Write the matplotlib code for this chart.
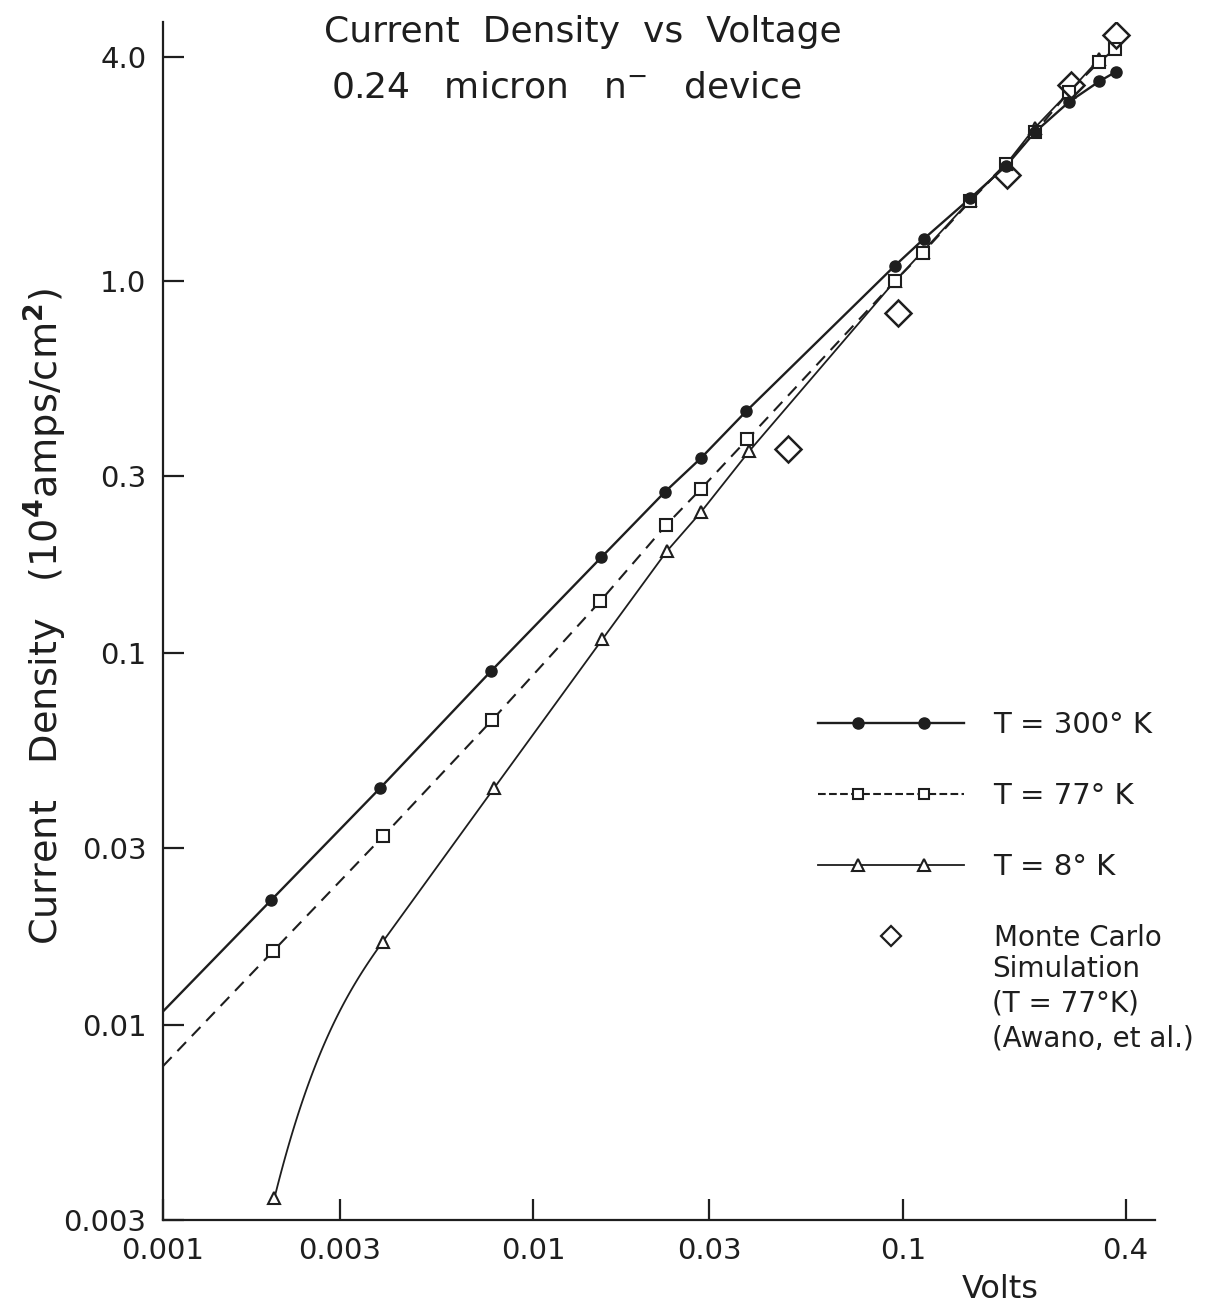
import numpy as np
import matplotlib
matplotlib.use("Agg")
import matplotlib.pyplot as plt
from matplotlib.lines import Line2D
from matplotlib.legend_handler import HandlerLine2D
from matplotlib.ticker import NullLocator, FixedLocator, FixedFormatter

plt.rcParams['font.family'] = ['DejaVu Sans']

# ---------------- data ----------------
V300 = [0.00196, 0.00386, 0.0077, 0.0153, 0.0227, 0.0284, 0.0377, 0.0951, 0.114, 0.152, 0.190, 0.227, 0.281, 0.339, 0.376]
J300 = [0.0217, 0.0434, 0.0895, 0.181, 0.271, 0.334, 0.447, 1.10, 1.30, 1.67, 2.04, 2.51, 3.03, 3.44, 3.65]

V77 = [0.00198, 0.00393, 0.00774, 0.0152, 0.0229, 0.0284, 0.0380, 0.0951, 0.113, 0.152, 0.190, 0.227, 0.281, 0.339, 0.374]
J77 = [0.0158, 0.0322, 0.066, 0.138, 0.221, 0.276, 0.376, 1.00, 1.19, 1.64, 2.06, 2.51, 3.22, 3.88, 4.20]

V8 = [0.00200, 0.00393, 0.00785, 0.0154, 0.0230, 0.0284, 0.0384, 0.0951, 0.113, 0.152, 0.190, 0.227, 0.281, 0.339]
J8 = [0.00343, 0.0168, 0.0434, 0.109, 0.188, 0.239, 0.349, 1.00, 1.20, 1.65, 2.06, 2.58, 3.22, 3.95]

VMC = [0.0489, 0.0969, 0.191, 0.284, 0.377]
JMC = [0.353, 0.82, 1.93, 3.36, 4.6]

xticks = [0.001, 0.003, 0.01, 0.03, 0.1, 0.4]
xticklabels = ["0.001", "0.003", "0.01", "0.03", "0.1", "0.4"]
yticks = [0.003, 0.01, 0.03, 0.1, 0.3, 1.0, 4.0]
yticklabels = ["0.003", "0.01", "0.03", "0.1", "0.3", "1.0", "4.0"]

labels = ["T = 300° K", "T = 77° K", "T = 8° K", "Monte Carlo"]
mc_note = "Simulation\n(T = 77°K)\n(Awano, et al.)"

XLIM = (0.001, 0.48)
YLIM = (0.003, 4.97)

INK = "#1e1e1e"
START_STEEPNESS = 1.7   # shape of the curved low-voltage end of the 8 K line


def curved_start(x, y, k=START_STEEPNESS, n=60):
    """Straight log-log segments, except the first one which is a Hermite curve
    that meets the second segment smoothly and starts steeper."""
    lx = np.log10(np.asarray(x, float))
    ly = np.log10(np.asarray(y, float))
    h = lx[1] - lx[0]
    sec = (ly[1] - ly[0]) / h
    m1 = (ly[2] - ly[1]) / (lx[2] - lx[1])
    m0 = k * sec
    t = np.linspace(0, 1, n)
    h00 = 2 * t**3 - 3 * t**2 + 1
    h10 = t**3 - 2 * t**2 + t
    h01 = -2 * t**3 + 3 * t**2
    h11 = t**3 - t**2
    cy = h00 * ly[0] + h10 * h * m0 + h01 * ly[1] + h11 * h * m1
    cx = lx[0] + t * h
    xs = np.concatenate([cx, lx[2:]])
    ys = np.concatenate([cy, ly[2:]])
    return 10 ** xs, 10 ** ys


def extend_left(x, y, x0):
    """Extend the first segment (straight in log-log) to x0."""
    s = (np.log10(y[1]) - np.log10(y[0])) / (np.log10(x[1]) - np.log10(x[0]))
    y0 = 10 ** (np.log10(y[0]) + s * (np.log10(x0) - np.log10(x[0])))
    return [x0] + list(x), [y0] + list(y)


class FullLineHandler(HandlerLine2D):
    """Legend handler: markers inset from the ends, line spans the full handle."""
    def create_artists(self, legend, orig_handle, xdescent, ydescent, width,
                       height, fontsize, trans):
        arts = super().create_artists(legend, orig_handle, xdescent, ydescent,
                                      width, height, fontsize, trans)
        mk = arts[0]
        yv = mk.get_ydata()[0]
        line = Line2D([-xdescent, -xdescent + width], [yv, yv],
                      color=orig_handle.get_color(), lw=orig_handle.get_linewidth(),
                      ls=orig_handle.get_linestyle(), marker="None")
        line.set_transform(trans)
        mk.set_linestyle("None")
        return [line, mk]


fig = plt.figure(figsize=(12.1, 13.1), dpi=100)
ax = fig.add_axes([0.1347, 0.0687, 0.8198, 0.9145])
ax.set_xscale("log")
ax.set_yscale("log")
ax.set_xlim(*XLIM)
ax.set_ylim(*YLIM)

# lines
x3, y3 = extend_left(V300, J300, XLIM[0])
ax.plot(x3, y3, color=INK, lw=1.7, zorder=2)
x7, y7 = extend_left(V77, J77, XLIM[0])
ax.plot(x7, y7, color=INK, lw=1.5, ls=(0, (6, 4)), zorder=2)
x8, y8 = curved_start(V8, J8)
ax.plot(x8, y8, color=INK, lw=1.3, zorder=2)

# markers
ax.plot(V8, J8, ls="none", marker="^", ms=9, mfc="white", mec=INK, mew=1.5, zorder=3)
ax.plot(V77, J77, ls="none", marker="s", ms=8.5, mfc="white", mec=INK, mew=1.5, zorder=4)
ax.plot(V300, J300, ls="none", marker="o", ms=8, mfc=INK, mec=INK, zorder=5)
ax.plot(VMC, JMC, ls="none", marker="D", ms=13, mfc="none", mec=INK, mew=1.8, zorder=6)

# axes styling
for s in ("top", "right"):
    ax.spines[s].set_visible(False)
for s in ("left", "bottom"):
    ax.spines[s].set_linewidth(1.6)
    ax.spines[s].set_color(INK)

ax.xaxis.set_major_locator(FixedLocator(xticks))
ax.xaxis.set_major_formatter(FixedFormatter(xticklabels))
ax.yaxis.set_major_locator(FixedLocator(yticks))
ax.yaxis.set_major_formatter(FixedFormatter(yticklabels))
ax.xaxis.set_minor_locator(NullLocator())
ax.yaxis.set_minor_locator(NullLocator())
ax.tick_params(axis="both", which="major", direction="in", length=15, width=1.6,
               color=INK, labelsize=21, labelcolor=INK)
ax.tick_params(axis="x", pad=12)
ax.tick_params(axis="y", pad=12)

# titles / labels
fig.text(583 / 1210, 1 - 32 / 1310, "Current  Density  vs  Voltage", ha="center", va="center",
         fontsize=26, color=INK)
fig.text(566 / 1210, 1 - 88 / 1310, "0.24   micron   n$^{-}$   device", ha="center", va="center",
         fontsize=26, color=INK)
fig.text(45 / 1210, 1 - 617 / 1310, "Current   Density   (10$^{\\mathbf{4}}$amps/cm$^{\\mathbf{2}}$)",
         rotation=90, ha="center", va="center", fontsize=27.5, color=INK)
fig.text(1000 / 1210, 1 - 1290 / 1310, "Volts", ha="center", va="center", fontsize=23, color=INK)

# legend
h300 = Line2D([], [], color=INK, lw=1.7, marker="o", ms=8, mfc=INK, mec=INK)
h77 = Line2D([], [], color=INK, lw=1.5, ls=(0, (3, 3)), marker="s", ms=7, mfc="white", mec=INK, mew=1.5)
h8 = Line2D([], [], color=INK, lw=1.3, marker="^", ms=8, mfc="white", mec=INK, mew=1.5)
hMC = Line2D([], [], ls="none", marker="D", ms=10, mfc="none", mec=INK, mew=1.6)
leg = ax.legend([h300, h77, h8, hMC], labels, loc="upper left", bbox_to_anchor=(0.66, 0.425),
                frameon=False, fontsize=21, handlelength=5.03, handletextpad=1.0,
                labelspacing=1.48, borderpad=0, borderaxespad=0,
                handler_map={h300: FullLineHandler(numpoints=2, marker_pad=1.37),
                             h77: FullLineHandler(numpoints=2, marker_pad=1.37),
                             h8: FullLineHandler(numpoints=2, marker_pad=1.37),
                             hMC: HandlerLine2D(numpoints=1)})
for t in leg.get_texts():
    t.set_color(INK)
leg.get_texts()[3].set_fontsize(20)
ax.text(0.836, 0.221, mc_note, transform=ax.transAxes, ha="left", va="top",
        fontsize=20, color=INK, linespacing=1.3)

fig.savefig("out.png", dpi=100, facecolor="white")
